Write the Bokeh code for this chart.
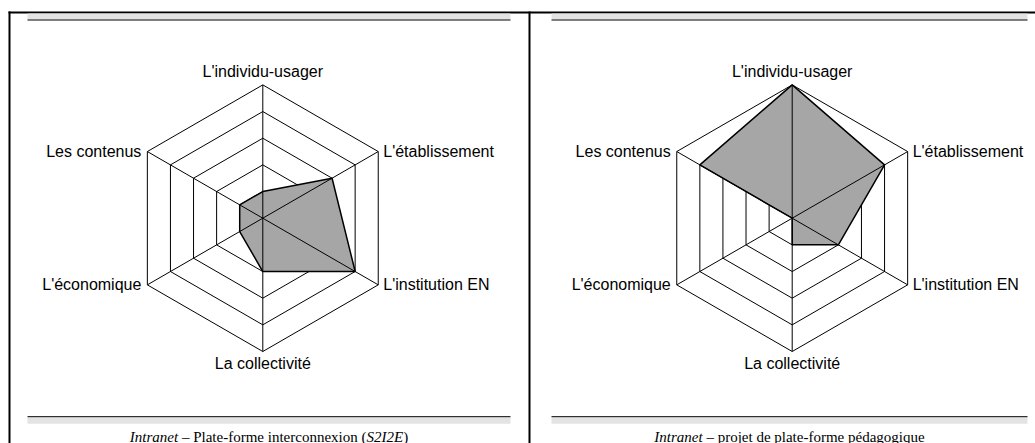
import numpy as np
from bokeh.plotting import figure
from bokeh.models import Range1d
from bokeh.embed import file_html
from bokeh.resources import INLINE
from bokeh.core.properties import value

# ---------------- data ----------------
axes_labels = ["L'individu-usager", "L'établissement", "L'institution EN",
               "La collectivité", "L'économique", "Les contenus"]
levels = [1, 2, 3, 4, 5]
s2i2e_values = [1, 3, 4, 2, 1, 1]          # Intranet – Plate-forme interconnexion (S2I2E)
pedago_values = [5, 4, 2, 1, 0, 4]         # Intranet – projet de plate-forme pédagogique
caption_left = [("Intranet", "italic"), (" – Plate-forme interconnexion (", "normal"),
                ("S2I2E", "italic"), (")", "normal")]
caption_right = [("Intranet", "italic"), (" – projet de plate-forme pédagogique", "normal")]

# ---------------- layout (page pixels) ----------------
W, H = 1035, 443
R = 133.3                     # outer radius in px
MAXV = max(levels)
centers = [(262.3, 217.7), (791.7, 217.7)]
bands = [(27, 510), (551, 1027)]
LABEL_FONT = "Liberation Sans"
CAP_FONT = "Liberation Serif"
LABEL_SIZE = 16
CAP_SIZE = 15
CAP_BASELINE = 436

# Times metrics (per 1000 em) for caption layout
roman_w = {' ': 250, '–': 500, '(': 333, ')': 333, '-': 333, 'P': 556, 'l': 278, 'a': 444,
           't': 278, 'e': 444, 'f': 333, 'o': 500, 'r': 333, 'm': 778, 'i': 278, 'n': 500,
           'c': 444, 'x': 500, 'p': 500, 'j': 278, 'd': 500, 'g': 500, 'q': 500, 'u': 500,
           'é': 444}
italic_w = {'I': 333, 'n': 500, 't': 278, 'r': 389, 'a': 500, 'e': 444, 'S': 500, '2': 500,
            'E': 611}


def seg_width(txt, style):
    tbl = italic_w if style == "italic" else roman_w
    return sum(tbl.get(ch, 500) for ch in txt) / 1000.0 * CAP_SIZE


p = figure(width=W, height=H, output_backend="svg", toolbar_location=None,
           x_range=Range1d(0, W), y_range=Range1d(H, 0),
           x_axis_type=None, y_axis_type=None, min_border=0,
           outline_line_color=None, background_fill_color="white",
           border_fill_color="white")
p.grid.visible = False

theta = np.deg2rad(90 - 60 * np.arange(len(axes_labels)))


def pt(c, v):
    v = np.asarray(v, dtype=float)
    return (c[0] + R * v / MAXV * np.cos(theta), c[1] - R * v / MAXV * np.sin(theta))


# frame
p.segment(x0=[8, 9, 529], y0=[12, 11, 11], x1=[W, 9, 529], y1=[12, H, H],
          line_color="black", line_width=2)
for (a, b) in bands:
    p.quad(left=a, right=b, top=13, bottom=19, fill_color="#e3e3e3", line_color=None)
    p.segment(x0=a, y0=19.5, x1=b, y1=19.5, line_color="black", line_width=1)
    p.quad(left=a, right=b, top=416.7, bottom=423.3, fill_color="#e3e3e3", line_color=None)
    p.segment(x0=a, y0=416.2, x1=b, y1=416.2, line_color="black", line_width=1)

for c, vals in zip(centers, [s2i2e_values, pedago_values]):
    # rings
    xs, ys = [], []
    for lv in levels:
        rx, ry = pt(c, [lv] * len(axes_labels))
        xs.append(list(rx) + [rx[0]])
        ys.append(list(ry) + [ry[0]])
    p.multi_line(xs, ys, line_color="black", line_width=1)
    # data polygon fill
    dx, dy = pt(c, vals)
    p.patch(list(dx), list(dy), fill_color="#a6a6a6", line_color=None)
    # spokes
    ox, oy = pt(c, [MAXV] * len(axes_labels))
    p.segment(x0=ox[:3], y0=oy[:3], x1=ox[3:], y1=oy[3:], line_color="black", line_width=1)
    # outline
    p.patch(list(dx), list(dy), fill_alpha=0, line_color="black", line_width=1.5)
    # labels
    specs = [("center", "alphabetic", 0, -13), ("left", "middle", 5, 0), ("left", "middle", 5, 0),
             ("center", "top", 0, 3), ("right", "middle", -6, 0), ("right", "middle", -6, 0)]
    for i, lab in enumerate(axes_labels):
        al, bl, ddx, ddy = specs[i]
        p.text(x=[ox[i] + ddx], y=[oy[i] + ddy], text=[lab], text_align=al, text_baseline=bl,
               text_font=value(LABEL_FONT), text_font_size=f"{LABEL_SIZE}px", text_color="black")

# captions (spaces are accounted for in positions, since SVG collapses edge spaces)
for (a, b), cap in zip(bands, [caption_left, caption_right]):
    total = sum(seg_width(t, s) for t, s in cap)
    x = (a + b) / 2 - total / 2
    for t, s in cap:
        lead = len(t) - len(t.lstrip())
        xd = x + seg_width(t[:lead], s)
        p.text(x=[xd], y=[CAP_BASELINE], text=[t.strip()], text_align="left",
               text_baseline="alphabetic", text_font=value(CAP_FONT),
               text_font_size=f"{CAP_SIZE}px", text_font_style=s, text_color="black")
        x += seg_width(t, s)

open("out.html", "w").write(file_html(p, INLINE))
